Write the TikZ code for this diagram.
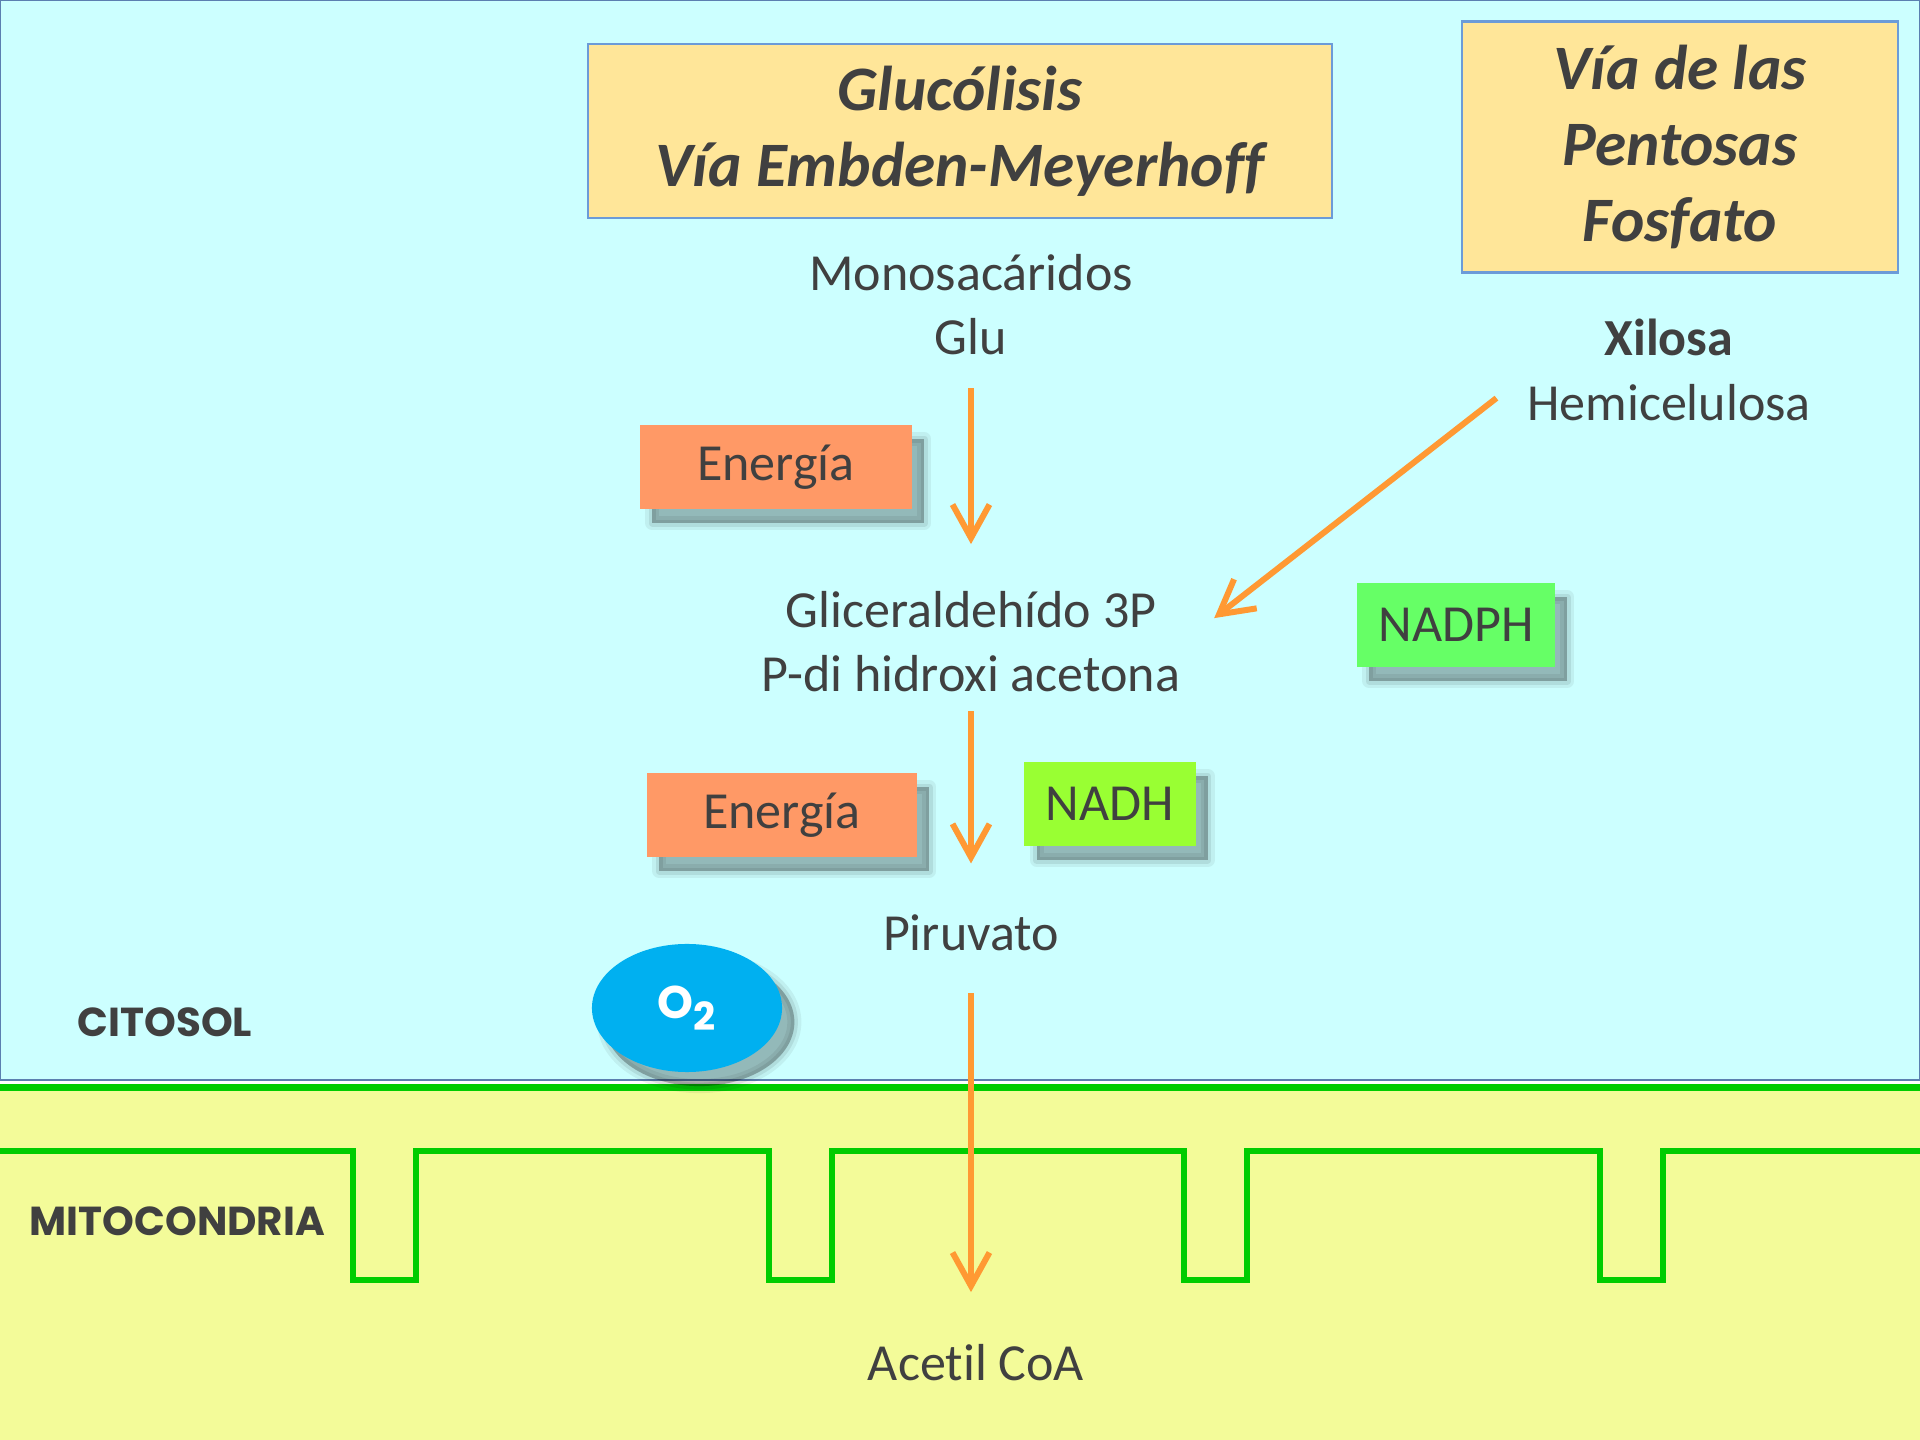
\documentclass[tikz,border=0pt]{standalone}
\usepackage{fontspec}
\setmainfont{Carlito}[Ligatures=NoCommon]
\newfontfamily\zonefont{Poppins}
\usetikzlibrary{arrows.meta,shapes.geometric,calc}

\definecolor{cytocyan}{HTML}{CCFFFF}
\definecolor{cytoline}{HTML}{5B7FB0}
\definecolor{mitoyellow}{HTML}{F3FB99}
\definecolor{titlefill}{HTML}{FFE699}
\definecolor{titleline}{HTML}{6C9BD8}
\definecolor{energyfill}{HTML}{FF9966}
\definecolor{nadhfill}{HTML}{99FF33}
\definecolor{nadphfill}{HTML}{66FF66}
\definecolor{oxyblue}{HTML}{00B0F0}
\definecolor{membrane}{HTML}{00CC00}
\definecolor{floworange}{HTML}{FF9933}
\definecolor{inktext}{HTML}{404040}

\newcommand{\bodysize}{\fontsize{14.8}{18.2}\selectfont}
\newcommand{\headsize}{\fontsize{18}{21.6}\selectfont}

\tikzset{
  titlebox/.style={draw=titleline, line width=0.7pt, fill=titlefill, text=inktext,
    font=\headsize\bfseries\itshape, align=center},
  metab/.style={text=inktext, font=\bodysize, inner sep=0pt, anchor=base},
  % soft shadow: stacked fills, shifted down-right
  softshadow/.style={
    preaction={fill=black, draw=black, line width=4pt, line join=round, opacity=0.06,
      transform canvas={shift={(3.5pt,-4pt)}}},
    preaction={fill=black, draw=black, line width=2pt, line join=round, opacity=0.08,
      transform canvas={shift={(3.5pt,-4pt)}}},
    preaction={fill=black, opacity=0.16, transform canvas={shift={(3.5pt,-4pt)}}}},
  cofactor/.style={text=inktext, font=\bodysize, minimum height=0.84cm, softshadow},
  zone/.style={text=inktext, font=\zonefont\bfseries\fontsize{11.5}{13}\selectfont,
    inner sep=0pt, anchor=west},
  pathway/.style={floworange, line width=1.7pt,
    -{Straight Barb[length=9.5pt,width=10.5pt]}},
}

\begin{document}
\begin{tikzpicture}[x=0.01cm, y=-0.01cm]
  \useasboundingbox (0,0) rectangle (1920,1440);

  % compartments
  \fill[white] (0,1080) rectangle (1920,1090);
  \fill[mitoyellow] (0,1088) rectangle (1920,1440);
  \filldraw[fill=cytocyan, draw=cytoline, line width=0.6pt] (0,0) rectangle (1920,1080);

  % membranes (outer, inner with crests)
  \draw[membrane, line width=2pt] (0,1087.5) -- (1920,1087.5);
  \draw[membrane, line width=1.8pt, line join=miter] (0,1151)
    \foreach \fx in {353,769,1184,1600} {
      -- (\fx,1151) -- (\fx,1280) -- ({\fx+63},1280) -- ({\fx+63},1151)
    } -- (1920,1151);

  % pathway titles
  \node[titlebox, minimum width=7.44cm, minimum height=1.74cm] (glyco) at (960,131)
    {Glucólisis\\Vía Embden-Meyerhoff};
  \node[titlebox, minimum width=4.36cm, minimum height=2.51cm] (pentose) at (1680,147)
    {Vía de las\\Pentosas\\Fosfato};

  % metabolites
  \node[metab] (mono)   at (971,291)  {Monosacáridos};
  \node[metab] (glu)    at (971,355)  {Glu};
  \node[metab] (gli)    at (971,628)  {Gliceraldehído 3P};
  \node[metab] (dhap)   at (971,692)  {P-di hidroxi acetona};
  \node[metab] (piru)   at (971,951)  {Piruvato};
  \node[metab] (acetil) at (976,1381) {Acetil CoA};
  \node[metab, font=\bodysize\bfseries] (xil) at (1669,356) {Xilosa};
  \node[metab] (hemi)   at (1669,421) {Hemicelulosa};

  % energy and cofactors
  \node[cofactor, fill=energyfill, minimum width=2.72cm] (ener1) at (776,467) {Energía};
  \node[cofactor, fill=energyfill, minimum width=2.70cm] (ener2) at (782,815) {Energía};
  \node[cofactor, fill=nadhfill, minimum width=1.71cm] (nadh) at (1110,804) {NADH};
  \node[cofactor, fill=nadphfill, minimum width=1.98cm] (nadph) at (1456,625) {NADPH};

  % oxygen
  \node[ellipse, fill=oxyblue, minimum width=1.9cm, minimum height=1.28cm, text=white,
    font=\zonefont\bfseries\fontsize{13}{15}\selectfont, softshadow] (o2) at (687,1008)
    {O\raisebox{-0.45ex}{\fontsize{11}{13}\selectfont 2}};

  % compartment labels
  \node[zone] (citosol) at (77,1022) {CITOSOL};
  \node[zone] (mito)    at (29,1221) {MITOCONDRIA};

  % arrows
  \draw[pathway, shorten <=0.32cm, shorten >=0.47cm] (glu.south) -- (gli.north);
  \draw[pathway, shorten <=0.18cm, shorten >=0.51cm] (dhap.south) -- (piru.north);
  \draw[pathway, shorten <=0.41cm, shorten >=0.52cm] (piru.south) -- (piru.south |- acetil.north);
  \draw[pathway] ($(hemi.west)+(-30,-5)$) -- ($(gli.east)+(57,8)$);
\end{tikzpicture}
\end{document}
